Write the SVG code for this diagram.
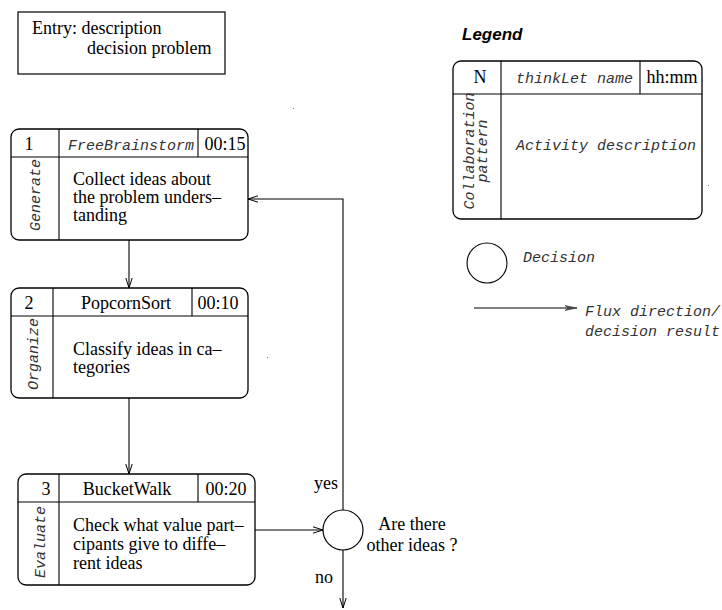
<svg xmlns="http://www.w3.org/2000/svg" width="722" height="610" viewBox="0 0 722 610">
<style>
.box{fill:#fff;stroke:#000;stroke-width:1.3}
.ln{stroke:#000;stroke-width:1.1;fill:none}
.t{font-family:"Liberation Serif","Times New Roman",serif;font-size:18px;fill:#000}
.m{font-family:"Liberation Mono","Courier New",monospace;font-style:italic;font-size:15px;fill:#333}
.c{text-anchor:middle}
.lg{font-family:"Liberation Sans",Arial,sans-serif;font-weight:bold;font-style:italic;font-size:17px;fill:#000}
.cn{fill:none;stroke:#000;stroke-width:1.1}
</style>
<defs>
<marker id="ah" markerWidth="10" markerHeight="8" refX="10" refY="4" orient="auto" markerUnits="userSpaceOnUse">
<path d="M0,0.8 L10,4 L0,7.2" fill="none" stroke="#000" stroke-width="1"/>
</marker>
<marker id="ahg" markerWidth="12" markerHeight="6" refX="12" refY="3" orient="auto" markerUnits="userSpaceOnUse">
<path d="M0,0.5 L12,3 L0,5.5 L3,3 Z" fill="#444" stroke="#444" stroke-width="0.6"/>
</marker>
</defs>

<g id="entry">
<rect x="18" y="12" width="207" height="62" fill="#fff" stroke="#000" stroke-width="1.2"/>
<text class="t" x="32" y="34">Entry: description</text>
<text class="t" x="87" y="54">decision problem</text>
</g>

<g id="node1">
<rect class="box" x="11" y="129" width="237" height="111" rx="8"/>
<path class="ln" d="M11,157H248M59,129V240M198,129V157"/>
<text class="t c" x="29" y="150">1</text>
<text class="m c" x="131" y="150">FreeBrainstorm</text>
<text class="t c" x="225" y="150">00:15</text>
<text class="m c" transform="translate(40,195) rotate(-90)">Generate</text>
<text class="t" x="73" y="185">Collect ideas about</text>
<text class="t" x="73" y="203">the problem unders–</text>
<text class="t" x="73" y="221">tanding</text>
</g>

<g id="node2">
<rect class="box" x="11" y="288" width="237" height="110" rx="8"/>
<path class="ln" d="M11,316H248M53,288V398M192,288V316"/>
<text class="t c" x="29" y="309">2</text>
<text class="t c" x="126" y="309">PopcornSort</text>
<text class="t c" x="218" y="309">00:10</text>
<text class="m c" transform="translate(38,354) rotate(-90)">Organize</text>
<text class="t" x="73" y="355">Classify ideas in ca–</text>
<text class="t" x="73" y="373">tegories</text>
</g>

<g id="node3">
<rect class="box" x="18" y="474" width="237" height="111" rx="8"/>
<path class="ln" d="M18,502H255M59,474V585M198,474V502"/>
<text class="t c" x="46" y="495">3</text>
<text class="t c" x="127" y="495">BucketWalk</text>
<text class="t c" x="226" y="495">00:20</text>
<text class="m c" transform="translate(45,542) rotate(-90)">Evaluate</text>
<text class="t" x="73" y="531">Check what value part–</text>
<text class="t" x="73" y="550">cipants give to diffe–</text>
<text class="t" x="73" y="569">rent ideas</text>
</g>

<g id="decision">
<circle cx="343" cy="530" r="20" fill="#fff" stroke="#000" stroke-width="1.2"/>
<text class="t c" x="412" y="530">Are there</text>
<text class="t c" x="412" y="551">other ideas ?</text>
</g>

<g id="connectors">
<path class="cn" d="M129,240V288" marker-end="url(#ah)"/>
<path class="cn" d="M129,398V474" marker-end="url(#ah)"/>
<path class="cn" d="M255,530H323" marker-end="url(#ah)"/>
<path class="cn" d="M343,510V199H248" marker-end="url(#ah)"/>
<path class="cn" d="M343,550V608" marker-end="url(#ah)"/>
<text class="t" x="314" y="489">yes</text>
<text class="t" x="315" y="583">no</text>
</g>

<g id="legend">
<text class="lg" x="462" y="40">Legend</text>
<rect class="box" x="453" y="61" width="249" height="158" rx="8"/>
<path class="ln" d="M453,94H702M501,61V219M640,61V94"/>
<text class="t c" x="480" y="83">N</text>
<text class="m" x="516" y="83">thinkLet name</text>
<text class="t c" x="672" y="83">hh:mm</text>
<text class="m c" transform="translate(474,151) rotate(-90)">Collaboration</text>
<text class="m c" transform="translate(487,151) rotate(-90)">pattern</text>
<text class="m" x="516" y="150">Activity description</text>
<circle cx="487" cy="263" r="20" fill="none" stroke="#000" stroke-width="1.1"/>
<text class="m" x="523" y="262">Decision</text>
<path d="M474,308H577" stroke="#555" stroke-width="1.3" fill="none" marker-end="url(#ahg)"/>
<text class="m" x="585" y="316">Flux direction/</text>
<text class="m" x="585" y="336">decision result</text>
</g>

<g id="specks" fill="#777">
<rect x="293" y="108" width="1" height="1"/>
<rect x="267" y="357" width="1" height="1"/>
<rect x="708" y="185" width="1" height="1"/>
</g>
</svg>
